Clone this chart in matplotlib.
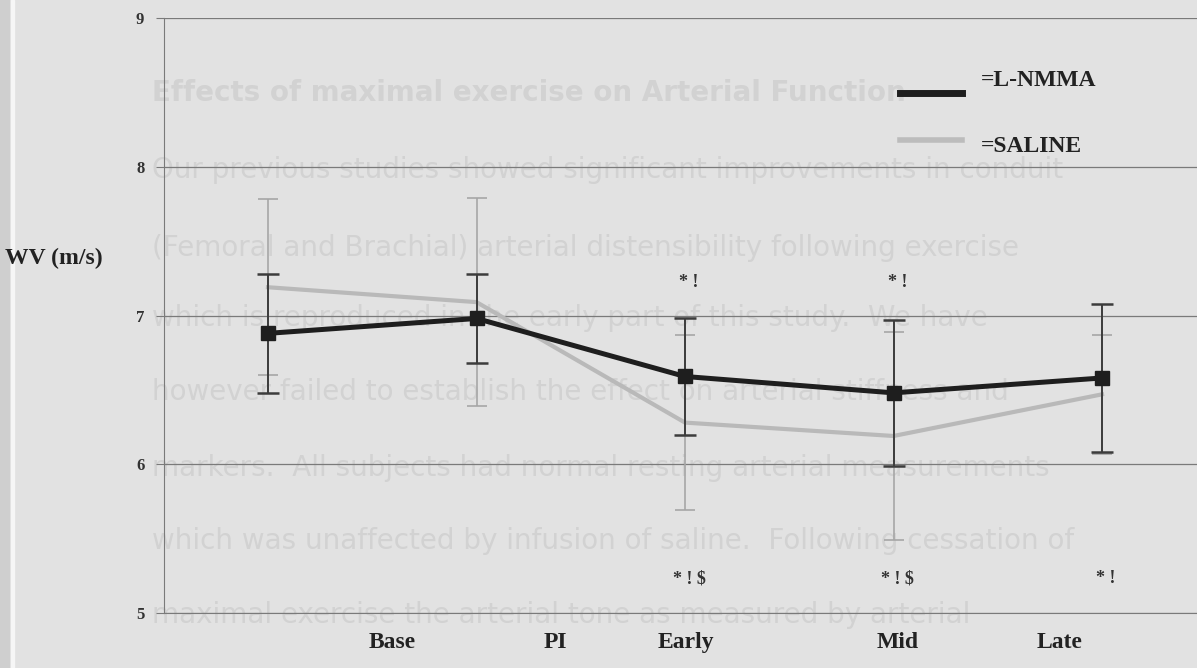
import matplotlib

matplotlib.use("Agg")
import matplotlib.pyplot as plt
from matplotlib.lines import Line2D
from matplotlib.patches import Rectangle

# data
stages = ["Base", "PI", "Early", "Mid", "Late"]
lnmma = [6.88, 6.98, 6.59, 6.48, 6.58]
lnmma_err = [0.40, 0.30, 0.39, 0.49, 0.50]
saline = [7.19, 7.09, 6.28, 6.19, 6.47]
saline_err = [0.59, 0.70, 0.59, 0.70, 0.40]
marks_top = ["", "", "* !", "* !", ""]
marks_bottom = ["", "", "* ! $", "* ! $", "* !"]

# faint bleed-through text from the other side of the page
ghost_lines = [
    "Effects of maximal exercise on Arterial Function",
    "Our previous studies showed significant improvements in conduit",
    "(Femoral and Brachial) arterial distensibility following exercise",
    "which is reproduced in the early part of this study.  We have",
    "however failed to establish the effect on arterial stiffness and",
    "markers.  All subjects had normal resting arterial measurements",
    "which was unaffected by infusion of saline.  Following cessation of",
    "maximal exercise the arterial tone as measured by arterial",
]
ghost_y = [93, 170, 248, 318, 392, 468, 541, 615]

W, H = 1197, 668
BG = "#e2e2e2"
fig = plt.figure(figsize=(W / 100, H / 100), dpi=100, facecolor=BG)

# scanner edge on the left
fig.patches.append(Rectangle((0, 0), 9 / W, 1, transform=fig.transFigure,
                             color="#cfcfcf", zorder=-3))
fig.patches.append(Rectangle((11 / W, 0), 3 / W, 1, transform=fig.transFigure,
                             color="#f6f6f6", zorder=-3))

for i, (s, yp) in enumerate(zip(ghost_lines, ghost_y)):
    fig.text(152 / W, 1 - yp / H, s, ha="left", va="center", fontsize=20,
             color="#d2d2d2", fontweight="bold" if i == 0 else "normal",
             family="DejaVu Sans", zorder=-2)

x0 = 163.75
step = 208.5
ax = fig.add_axes([x0 / W, 1 - 613 / H, (W - x0) / W, (613 - 18) / H])
ax.set_facecolor("none")
ax.set_xlim(0, (W - x0) / step)
ax.set_ylim(5, 9)

xs = [i + 0.5 for i in range(len(stages))]

ax.errorbar(xs, saline, yerr=saline_err, fmt="none", ecolor="#a6a6a6",
            elinewidth=1.2, capsize=7, capthick=1.2, zorder=2)
ax.plot(xs, saline, color="#b9b9b9", lw=3, zorder=3)
ax.errorbar(xs, lnmma, yerr=lnmma_err, fmt="none", ecolor="#3c3c3c",
            elinewidth=1.4, capsize=8, capthick=1.8, zorder=4)
ax.plot(xs, lnmma, color="#1e1e1e", lw=3.6, marker="s", ms=9.5, zorder=5)

serif = "Liberation Serif"
for x, t in zip(xs, marks_top):
    if t:
        ax.text(x + 0.02, 7.22, t, ha="center", va="center", fontsize=13,
                family=serif, fontweight="bold", color="#333333")
for x, t in zip(xs, marks_bottom):
    if t:
        ax.text(x + 0.02, 5.23, t, ha="center", va="center", fontsize=13,
                family=serif, fontweight="bold", color="#333333")

# grid and spines
ax.set_yticks([5, 6, 7, 8, 9])
ax.grid(axis="y", color="#7a7a7a", lw=0.9)
ax.set_axisbelow(True)
for side in ["top", "right"]:
    ax.spines[side].set_visible(False)
ax.spines["left"].set_color("#7a7a7a")
ax.spines["bottom"].set_color("#7a7a7a")
ax.tick_params(axis="y", length=6, color="#7a7a7a", labelsize=12, pad=8,
               labelcolor="#333333")
for lbl in ax.get_yticklabels():
    lbl.set_family(serif)
    lbl.set_fontweight("bold")

# category labels sit off the points in the original
label_px = [392, 555, 686, 898, 1060]
ax.set_xticks([(p - x0) / step for p in label_px])
ax.set_xticklabels(stages, family=serif, fontweight="bold", fontsize=17,
                   color="#222222")
ax.tick_params(axis="x", length=0, pad=14)

fig.text(5 / W, 1 - 258 / H, "WV (m/s)", ha="left", va="center", fontsize=17,
         family=serif, fontweight="bold", color="#222222")

# hand-drawn style legend
fig.add_artist(Line2D([900 / W, 962 / W], [1 - 93 / H] * 2, color="#1e1e1e",
                      lw=5, transform=fig.transFigure))
fig.add_artist(Line2D([900 / W, 962 / W], [1 - 140 / H] * 2, color="#bcbcbc",
                      lw=4, transform=fig.transFigure))
fig.text(981 / W, 1 - 80 / H, "=L-NMMA", ha="left", va="center", fontsize=17,
         family=serif, fontweight="bold", color="#222222")
fig.text(981 / W, 1 - 146 / H, "=SALINE", ha="left", va="center", fontsize=17,
         family=serif, fontweight="bold", color="#222222")

fig.savefig("out.png", dpi=100, facecolor=BG)
